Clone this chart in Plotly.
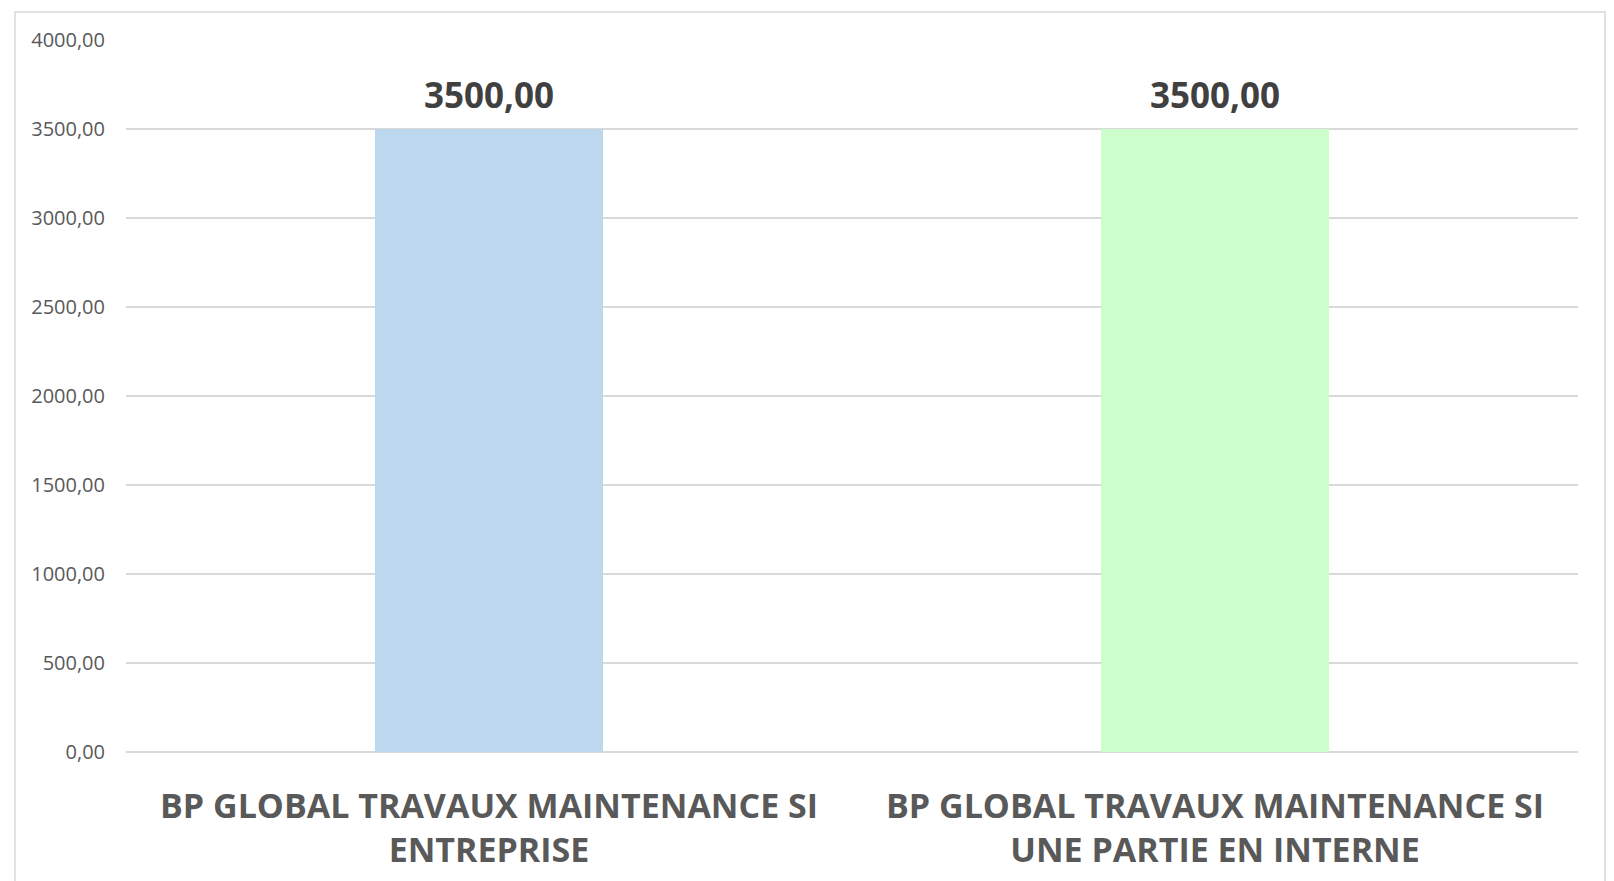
import plotly.graph_objects as go

categories = [
    "BP GLOBAL TRAVAUX MAINTENANCE SI<br>ENTREPRISE",
    "BP GLOBAL TRAVAUX MAINTENANCE SI<br>UNE PARTIE EN INTERNE",
]
values = [3500.00, 3500.00]
bar_colors = ["#BDD7EE", "#CCFFCC"]
y_ticks = [0, 500, 1000, 1500, 2000, 2500, 3000, 3500, 4000]

W, H = 1614, 881
ml, mr, mt, mb = 126, 36, 40, 129

fig = go.Figure()
fig.add_trace(go.Bar(
    x=categories,
    y=values,
    marker=dict(color=bar_colors, line=dict(width=0)),
    hoverinfo="skip",
))

# value labels above each bar, taken from the bar values
for cat, val in zip(categories, values):
    fig.add_annotation(
        x=cat, y=val, xref="x", yref="y",
        text=f"{val:.2f}".replace(".", ","),
        showarrow=False, yanchor="bottom", yshift=9,
        font=dict(family="Open Sans", size=35, color="#404040", weight="bold"),
    )

# outer chart frame
pw, ph = W - ml - mr, H - mt - mb
fig.add_shape(
    type="rect", xref="paper", yref="paper",
    x0=(15 - ml) / pw, x1=(1605 - ml) / pw,
    y0=-(H + 20 - mt - ph) / ph, y1=(H - 12 - mb) / ph,
    line=dict(color="#D9D9D9", width=1.5), fillcolor="rgba(0,0,0,0)", layer="below",
)

fig.update_layout(
    width=W, height=H,
    margin=dict(l=ml, r=mr, t=mt, b=mb, autoexpand=False),
    paper_bgcolor="white", plot_bgcolor="white",
    separators=",.",
    bargap=0.686,
    showlegend=False,
    font=dict(family="Open Sans", color="#595959"),
)
fig.update_yaxes(
    range=[0, 4000], tickvals=y_ticks, tickformat=".2f",
    showgrid=True, gridcolor="#D9D9D9", gridwidth=1.5,
    zeroline=True, zerolinecolor="#D9D9D9", zerolinewidth=1.5,
    showline=False, ticks="", ticklabelstandoff=20, automargin=False,
    tickfont=dict(family="Open Sans", size=20, color="#595959"),
)
fig.update_xaxes(
    showgrid=False, showline=False, ticks="", ticklabelstandoff=31, automargin=False,
    tickfont=dict(family="Open Sans", size=34, color="#595959", weight="bold"),
)

fig.write_html("out.html")
